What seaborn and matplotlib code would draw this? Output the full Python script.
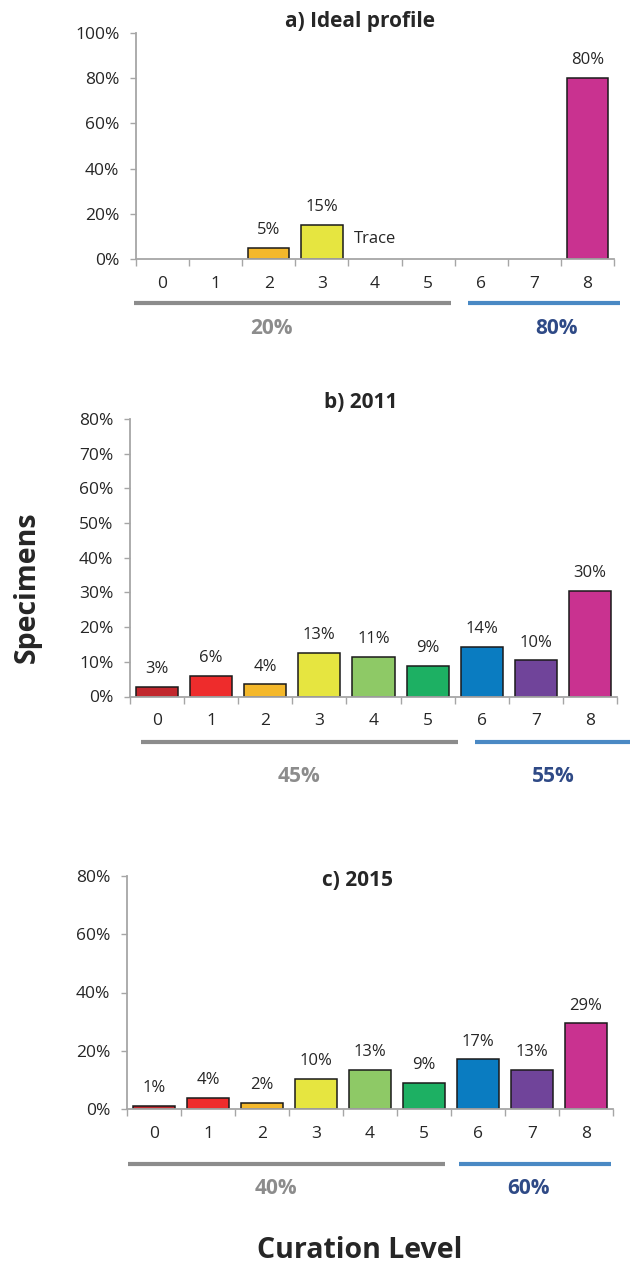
import numpy as np
import matplotlib
matplotlib.use("Agg")
import matplotlib.pyplot as plt
from matplotlib.lines import Line2D
import seaborn as sns

# data
levels = ["0", "1", "2", "3", "4", "5", "6", "7", "8"]
level_colors = ["#c1272d", "#ee2c2c", "#f4b82b", "#e6e540", "#8ec966",
                "#1db063", "#0a7cc1", "#70449a", "#c93290"]

ideal_values = [0, 0, 5, 15, 0, 0, 0, 0, 80]
ideal_labels = ["", "", "5%", "15%", "", "", "", "", "80%"]

values_2011 = [2.7, 6.0, 3.5, 12.5, 11.4, 8.9, 14.3, 10.4, 30.5]
labels_2011 = ["3%", "6%", "4%", "13%", "11%", "9%", "14%", "10%", "30%"]

values_2015 = [1.1, 3.9, 2.2, 10.3, 13.4, 9.0, 17.0, 13.4, 29.4]
labels_2015 = ["1%", "4%", "2%", "10%", "13%", "9%", "17%", "13%", "29%"]

group_ideal = ["20%", "80%"]
group_2011 = ["45%", "55%"]
group_2015 = ["40%", "60%"]

titles = ["a) Ideal profile", "b) 2011", "c) 2015"]

W, H = 630, 1266
GRAY = "#8c8c8c"
BLUE = "#4a89c4"
NAVY = "#2f4a86"
SPINE = "#a6a6a6"

sns.set_theme(style="white")
plt.rcParams["font.family"] = ["Open Sans", "DejaVu Sans"]

fig = plt.figure(figsize=(W / 100, H / 100), dpi=100)


def fx(x):
    return x / W


def fy(y):
    return 1 - y / H


# panel layout in pixels: plot box (left, right, y of 0, y of top),
# group underline y and spans, group label y / x's, title position
panels = [
    dict(values=ideal_values, labels=ideal_labels, groups=group_ideal,
         box=(136, 614, 259, 33), ymax=100, ystep=20,
         line_y=303, gray=(134, 451), blue=(468, 620),
         glab_y=328, glab_x=(271, 556), title=(360, 22)),
    dict(values=values_2011, labels=labels_2011, groups=group_2011,
         box=(130, 617, 696.5, 419), ymax=80, ystep=10,
         line_y=742, gray=(141, 458), blue=(475, 630),
         glab_y=777, glab_x=(299, 553), title=(361, 403)),
    dict(values=values_2015, labels=labels_2015, groups=group_2015,
         box=(127, 613, 1109, 876), ymax=80, ystep=20,
         line_y=1164, gray=(128, 445), blue=(459, 611),
         glab_y=1188, glab_x=(276, 528), title=(357, 881)),
]

for i, p in enumerate(panels):
    left, right, y0, y1 = p["box"]
    ax = fig.add_axes([fx(left), fy(y0), (right - left) / W, (y0 - y1) / H])

    sns.barplot(x=levels, y=p["values"], hue=levels, palette=level_colors,
                legend=False, width=0.78, edgecolor="#1a1a1a", linewidth=1.1,
                saturation=1, ax=ax)

    # no outline on empty bars
    for bar in ax.patches:
        if bar.get_height() == 0:
            bar.set_linewidth(0)

    # one container per hue level
    for c, lab in zip(ax.containers, p["labels"]):
        ax.bar_label(c, labels=[lab], padding=7, fontsize=12)

    ax.set_xlim(-0.5, 8.5)
    ax.set_ylim(0, p["ymax"])
    yt = np.arange(0, p["ymax"] + 1, p["ystep"])
    ax.set_yticks(yt)
    ax.set_yticklabels([f"{t}%" for t in yt])
    ax.set_xticks(range(9))
    ax.set_xticklabels(levels)
    ax.set_xticks(np.arange(-0.5, 9, 1), minor=True)
    ax.tick_params(axis="x", which="major", length=0, pad=12, labelsize=12.5)
    ax.tick_params(axis="x", which="minor", length=5, width=1, color=SPINE,
                   direction="out", bottom=True)
    ax.tick_params(axis="y", length=4, width=1, color=SPINE, direction="out",
                   left=True, pad=8, labelsize=12.5)
    ax.set_xlabel("")
    ax.set_ylabel("")
    sns.despine(ax=ax)
    for s in ["left", "bottom"]:
        ax.spines[s].set_color(SPINE)
        ax.spines[s].set_linewidth(1.3)

    if i == 0:
        ax.text(4, 9, "Trace", ha="center", va="center", fontsize=12)

    fig.text(fx(p["title"][0]), fy(p["title"][1]), titles[i], ha="center",
             va="center", fontsize=15, fontweight="bold")

    for (x0, x1), col in [(p["gray"], GRAY), (p["blue"], BLUE)]:
        fig.add_artist(Line2D([fx(x0), fx(x1)], [fy(p["line_y"])] * 2,
                              transform=fig.transFigure, color=col, lw=3,
                              solid_capstyle="butt"))
    for x, txt, col in zip(p["glab_x"], p["groups"], [GRAY, NAVY]):
        fig.text(fx(x), fy(p["glab_y"]), txt, ha="center", va="center",
                 fontsize=15, fontweight="bold", color=col)

fig.text(fx(27), fy(587), "Specimens", rotation=90, ha="center", va="center",
         fontsize=20.5, fontweight="bold")
fig.text(fx(360), fy(1250), "Curation Level", ha="center", va="center",
         fontsize=20.5, fontweight="bold")

plt.savefig("out.png", dpi=100)
plt.close()
